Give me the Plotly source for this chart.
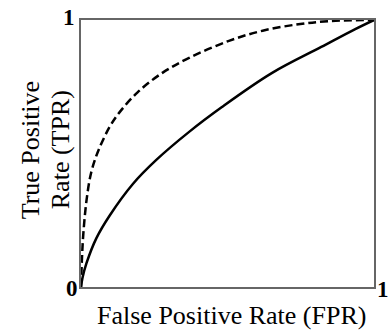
import plotly.graph_objects as go

# Solid ROC curve
solid_fpr = [0, 0.005, 0.019, 0.053, 0.098, 0.177, 0.257, 0.369, 0.481, 0.651, 0.820, 0.936, 1.0]
solid_tpr = [0, 0.034, 0.090, 0.184, 0.268, 0.386, 0.476, 0.581, 0.674, 0.801, 0.899, 0.966, 1.0]

# Dashed ROC curve
dash_fpr = [0, 0.003, 0.008, 0.019, 0.035, 0.059, 0.098, 0.132, 0.194, 0.279, 0.369, 0.505, 0.62, 0.742, 0.85, 1.0]
dash_tpr = [0, 0.10, 0.20, 0.326, 0.43, 0.51, 0.60, 0.655, 0.73, 0.803, 0.858, 0.922, 0.96, 0.984, 0.996, 1.0]

tick_labels = ["0", "1", "1"]
x_title = "False Positive Rate (FPR)"
y_title_lines = ["True Positive", "Rate (TPR)"]

SERIF = "Liberation Serif, Times New Roman, serif"

fig = go.Figure()
fig.add_trace(go.Scatter(x=dash_fpr, y=dash_tpr, mode="lines",
                         line=dict(color="black", width=2.5, dash="8px,4px", shape="spline", smoothing=1.0),
                         hoverinfo="skip", showlegend=False))
fig.add_trace(go.Scatter(x=solid_fpr, y=solid_tpr, mode="lines",
                         line=dict(color="black", width=2.5, shape="spline", smoothing=1.0),
                         hoverinfo="skip", showlegend=False))

axis_common = dict(range=[0, 1], showgrid=False, zeroline=False, showticklabels=False,
                   ticks="", showline=True, mirror=True, linecolor="#666666", linewidth=1.5,
                   fixedrange=True)
fig.update_xaxes(**axis_common)
fig.update_yaxes(**axis_common)

tick_font = dict(family=SERIF, size=23, color="black")
annotations = [
    dict(text="<b>%s</b>" % tick_labels[0], x=-0.0322, y=-0.0056, xanchor="center"),
    dict(text="<b>%s</b>" % tick_labels[1], x=-0.0407, y=1.0075, xanchor="center"),
    dict(text="<b>%s</b>" % tick_labels[2], x=1.0034, y=-0.0075, xanchor="left"),
]
for a in annotations:
    fig.add_annotation(xref="paper", yref="paper", showarrow=False,
                       yanchor="middle", font=tick_font, **a)

title_font = dict(family=SERIF, size=26, color="black")
fig.add_annotation(text=x_title, xref="paper", yref="paper", x=0.512, y=-0.1086,
                   xanchor="center", yanchor="middle", showarrow=False, font=title_font)
fig.add_annotation(text=y_title_lines[0], xref="paper", yref="paper", x=-0.173, y=0.513,
                   xanchor="center", yanchor="middle", showarrow=False, textangle=-90, font=title_font)
fig.add_annotation(text=y_title_lines[1], xref="paper", yref="paper", x=-0.071, y=0.513,
                   xanchor="center", yanchor="middle", showarrow=False, textangle=-90, font=title_font)

fig.update_layout(width=388, height=330, margin=dict(l=81, r=12, t=20, b=43),
                  paper_bgcolor="white", plot_bgcolor="white", hovermode=False)

# remove the default 8px page margin so the figure fills the window exactly
fig.write_html("out.html", config={"displayModeBar": False},
               post_script="document.body.style.margin='0';document.documentElement.style.overflow='hidden';")
